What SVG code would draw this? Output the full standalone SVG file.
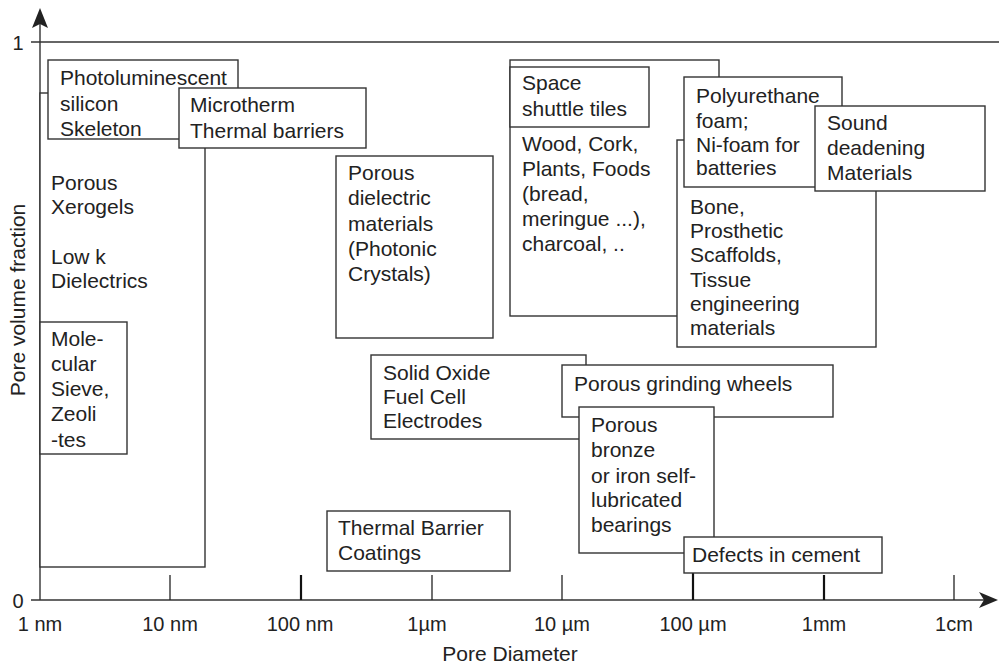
<svg xmlns="http://www.w3.org/2000/svg" width="999" height="665" viewBox="0 0 999 665">
<style>
.box{fill:#fff;stroke:#333;stroke-width:1.4}
.ln{fill:none;stroke:#333;stroke-width:1.4}
.tk{stroke:#222;stroke-width:1.3}
.tkb{stroke:#111;stroke-width:2.2}
text{font-family:"Liberation Sans",Arial,Helvetica,sans-serif;fill:#222}
.t{font-size:21px}
.ax{font-size:20px}
.mid{text-anchor:middle}
</style>
<rect width="999" height="665" fill="#fff"/>
<g id="axes">
  <line class="ln" x1="31" y1="42" x2="999" y2="42"/>
  <line class="ln" x1="31" y1="600" x2="986" y2="600"/>
  <line class="ln" x1="40" y1="600" x2="40" y2="22"/>
  <path d="M40,8 L32,28 L40,24 L48,28 Z" fill="#222"/>
  <path d="M998,600 L979,592 L984,600 L979,608 Z" fill="#222"/>
  <line class="tk" x1="170" y1="575" x2="170" y2="600"/>
  <line class="tkb" x1="301" y1="575" x2="301" y2="600"/>
  <line class="tk" x1="432" y1="575" x2="432" y2="600"/>
  <line class="tk" x1="562" y1="575" x2="562" y2="600"/>
  <line class="tkb" x1="693" y1="573" x2="693" y2="600"/>
  <line class="tkb" x1="824" y1="575" x2="824" y2="600"/>
  <line class="tk" x1="954" y1="575" x2="954" y2="600"/>
  <text class="ax mid" x="18" y="50">1</text>
  <text class="ax mid" x="18" y="608">0</text>
  <text class="ax mid" x="40" y="631">1 nm</text>
  <text class="ax mid" x="170" y="631">10 nm</text>
  <text class="ax mid" x="300" y="631">100 nm</text>
  <text class="ax mid" x="427" y="631">1µm</text>
  <text class="ax mid" x="562" y="631">10 µm</text>
  <text class="ax mid" x="693" y="631">100 µm</text>
  <text class="ax mid" x="824" y="631">1mm</text>
  <text class="ax mid" x="954" y="631">1cm</text>
  <text class="t mid" x="510" y="661">Pore Diameter</text>
  <text class="t mid" transform="translate(25,300) rotate(-90)">Pore volume fraction</text>
</g>
<g id="connectors"></g>
<g id="xerogels">
  <rect class="box" x="40" y="93" width="165" height="474"/>
  <text class="t" x="51" y="190">Porous</text>
  <text class="t" x="51" y="214">Xerogels</text>
  <text class="t" x="51" y="264">Low k</text>
  <text class="t" x="51" y="288">Dielectrics</text>
</g>
<g id="photoluminescent">
  <rect class="box" x="48" y="60" width="190" height="79"/>
  <text class="t" x="60" y="85">Photoluminescent</text>
  <text class="t" x="60" y="111">silicon</text>
  <text class="t" x="60" y="136">Skeleton</text>
</g>
<g id="microtherm">
  <rect class="box" x="179" y="88" width="187" height="60"/>
  <text class="t" x="190" y="112">Microtherm</text>
  <text class="t" x="190" y="138">Thermal barriers</text>
</g>
<g id="molecular">
  <rect class="box" x="40" y="322" width="87" height="132"/>
  <text class="t" x="51" y="346">Mole-</text>
  <text class="t" x="51" y="371">cular</text>
  <text class="t" x="51" y="396">Sieve,</text>
  <text class="t" x="51" y="421">Zeoli</text>
  <text class="t" x="51" y="447">-tes</text>
</g>
<g id="dielectric">
  <rect class="box" x="336" y="156" width="157" height="182"/>
  <text class="t" x="348" y="180">Porous</text>
  <text class="t" x="348" y="205">dielectric</text>
  <text class="t" x="348" y="231">materials</text>
  <text class="t" x="348" y="256">(Photonic</text>
  <text class="t" x="348" y="281">Crystals)</text>
</g>
<g id="wood">
  <rect class="box" x="510" y="60" width="209" height="256"/>
  <text class="t" x="522" y="151">Wood, Cork,</text>
  <text class="t" x="522" y="176">Plants, Foods</text>
  <text class="t" x="522" y="201">(bread,</text>
  <text class="t" x="522" y="226">meringue ...),</text>
  <text class="t" x="522" y="251">charcoal, ..</text>
</g>
<g id="shuttle">
  <rect class="box" x="510" y="67" width="139" height="60"/>
  <text class="t" x="522" y="90">Space</text>
  <text class="t" x="522" y="116">shuttle tiles</text>
</g>
<g id="bone">
  <rect class="box" x="677" y="140" width="199" height="207"/>
  <text class="t" x="690" y="214">Bone,</text>
  <text class="t" x="690" y="238">Prosthetic</text>
  <text class="t" x="690" y="262">Scaffolds,</text>
  <text class="t" x="690" y="287">Tissue</text>
  <text class="t" x="690" y="311">engineering</text>
  <text class="t" x="690" y="335">materials</text>
</g>
<g id="polyurethane">
  <rect class="box" x="684" y="77" width="158" height="110"/>
  <text class="t" x="696" y="103">Polyurethane</text>
  <text class="t" x="696" y="128">foam;</text>
  <text class="t" x="696" y="152">Ni-foam for</text>
  <text class="t" x="696" y="175">batteries</text>
</g>
<g id="sound">
  <rect class="box" x="815" y="106" width="170" height="85"/>
  <text class="t" x="827" y="130">Sound</text>
  <text class="t" x="827" y="155">deadening</text>
  <text class="t" x="827" y="180">Materials</text>
</g>
<g id="sofc">
  <rect class="box" x="371" y="355" width="215" height="84"/>
  <text class="t" x="383" y="380">Solid Oxide</text>
  <text class="t" x="383" y="404">Fuel Cell</text>
  <text class="t" x="383" y="428">Electrodes</text>
</g>
<g id="grinding">
  <rect class="box" x="562" y="365" width="271" height="52"/>
  <text class="t" x="574" y="391">Porous grinding wheels</text>
</g>
<g id="bronze">
  <rect class="box" x="579" y="407" width="135" height="146"/>
  <text class="t" x="591" y="432">Porous</text>
  <text class="t" x="591" y="457">bronze</text>
  <text class="t" x="591" y="483">or iron self-</text>
  <text class="t" x="591" y="507">lubricated</text>
  <text class="t" x="591" y="532">bearings</text>
</g>
<g id="cement">
  <rect class="box" x="684" y="537" width="198" height="36"/>
  <text class="t" x="692" y="562">Defects in cement</text>
</g>
<g id="tbc">
  <rect class="box" x="327" y="511" width="183" height="60"/>
  <text class="t" x="338" y="535">Thermal Barrier</text>
  <text class="t" x="338" y="560">Coatings</text>
</g>
</svg>
